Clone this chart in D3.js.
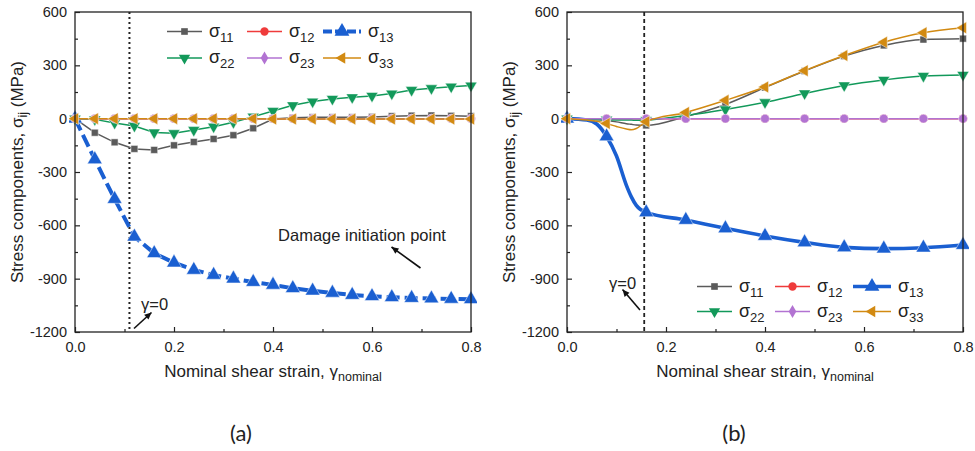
<!DOCTYPE html>
<html><head><meta charset="utf-8">
<script src="https://cdn.jsdelivr.net/npm/d3@7"></script>
<style>
body{margin:0;background:#fff;}
svg{display:block;font-family:"Liberation Sans",Arial,sans-serif;}
</style></head>
<body><svg id="c" width="975" height="451"></svg>
<script>
// ---------- DATA ----------
const seriesNames = ["σ11","σ12","σ13","σ22","σ23","σ33"];
const seriesColors = ["#5b5b5b","#ef3b3b","#1a5fd1","#12995a","#b273d2","#d28a12"];
const xTickLabels = [0.0,0.2,0.4,0.6,0.8];
const yTickLabels = [-1200,-900,-600,-300,0,300,600];

// Panel (a): sampled every 0.04
const xA = [0,0.04,0.08,0.12,0.16,0.20,0.24,0.28,0.32,0.36,0.40,0.44,0.48,0.52,0.56,0.60,0.64,0.68,0.72,0.76,0.80];
const a_s11 = [0,-79,-133,-170,-176,-150,-131,-114,-93,-54,-2,5,8,8,8,10,14,17,18,16,14];
const a_s12 = [0,0,0,0,0,0,0,0,0,0,0,0,0,0,0,0,0,0,0,0,0];
const a_s13 = [0,-229,-452,-664,-757,-810,-851,-879,-900,-919,-935,-954,-968,-980,-992,-999,-1005,-1009,-1012,-1014,-1016];
const a_s22 = [0,-4,-24,-41,-78,-82,-64,-45,-20,11,43,75,96,111,120,128,141,161,171,180,186];
const a_s23 = [0,0,0,0,0,0,0,0,0,0,0,0,0,0,0,0,0,0,0,0,0];
const a_s33 = [0,0,0,0,0,0,0,0,0,0,-2,-2,-2,-2,-2,-2,-2,-2,-2,-2,-2];

// Panel (b): curve samples, markers every 0.08
const xB = [0,0.04,0.06,0.08,0.10,0.12,0.13,0.14,0.16,0.24,0.32,0.40,0.48,0.56,0.64,0.72,0.80];
const xBMarkers = [0,0.08,0.16,0.24,0.32,0.40,0.48,0.56,0.64,0.72,0.80];
const b_s11 = [0,-3,-6,-10,-18,-28,-32,-36,-38,12,80,175,268,352,412,445,450];
const b_s12 = [0,0,0,0,0,0,0,0,0,0,0,0,0,0,0,0,0];
const b_s13 = [0,-8,-30,-100,-210,-375,-440,-488,-527,-570,-617,-660,-696,-724,-731,-726,-711];
const b_s22 = [0,-3,-5,-6,-7,-8,-8,-9,-8,18,52,92,142,187,218,240,246];
const b_s23 = [0,0,0,0,0,0,0,0,0,0,0,0,0,0,0,0,0];
const b_s33 = [0,-8,-15,-27,-44,-58,-62,-55,-17,35,103,178,270,355,430,483,511];

// ---------- DRAW ----------
const svg = d3.select("#c");
const W = 396, T = 12, B = 332;

const plotMarkers = [
  {t:d3.symbolSquare, s:48, r:0},
  {t:d3.symbolCircle, s:60, r:0},
  {t:d3.symbolTriangle, s:95, r:0},
  {t:d3.symbolTriangle, s:62, r:180},
  {t:d3.symbolCircle, s:60, r:0},
  {t:d3.symbolTriangle, s:62, r:-90}
];
const legendMarkers = [
  {t:d3.symbolSquare, s:44, r:0},
  {t:d3.symbolCircle, s:55, r:0},
  {t:d3.symbolTriangle, s:95, r:0},
  {t:d3.symbolTriangle, s:55, r:180},
  {t:d3.symbolDiamond, s:50, r:0},
  {t:d3.symbolTriangle, s:55, r:-90}
];

function addSubText(g, x, y, main, sub, size, subSize, anchor){
  const t = g.append("text").attr("x",x).attr("y",y).attr("font-size",size).attr("fill","#222");
  if(anchor) t.attr("text-anchor",anchor);
  t.append("tspan").text(main);
  t.append("tspan").attr("font-size",subSize).attr("dy",size*0.3).text(sub);
  return t;
}

function arrow(g, x1,y1,x2,y2){
  g.append("line").attr("x1",x1).attr("y1",y1).attr("x2",x2).attr("y2",y2)
   .attr("stroke","#111").attr("stroke-width",1.6);
  const ang = Math.atan2(y2-y1,x2-x1);
  const L=7, w=3.2;
  const p = [[x2,y2],
    [x2-L*Math.cos(ang)+w*Math.sin(ang), y2-L*Math.sin(ang)-w*Math.cos(ang)],
    [x2-L*Math.cos(ang)-w*Math.sin(ang), y2-L*Math.sin(ang)+w*Math.cos(ang)]];
  g.append("path").attr("d","M"+p.join("L")+"Z").attr("fill","#111");
}

function panel(left, xs, data, markerXs, opts){
  const g = svg.append("g");
  const x = d3.scaleLinear().domain([0,0.8]).range([left,left+W]);
  const y = d3.scaleLinear().domain([-1200,600]).range([B,T]);

  const cid = "clip"+left;
  svg.append("clipPath").attr("id",cid).append("rect").attr("x",left-6).attr("y",T-6).attr("width",W+12).attr("height",B-T+12);

  // axes
  const xAxis = d3.axisBottom(x).tickValues(xTickLabels).tickFormat(d=>d.toFixed(1)).tickSizeInner(-5).tickSizeOuter(0).tickPadding(10);
  g.append("g").attr("transform",`translate(0,${B})`).call(xAxis);
  const xMinor = d3.axisBottom(x).tickValues([0.1,0.3,0.5,0.7]).tickFormat("").tickSizeInner(-3).tickSizeOuter(0);
  g.append("g").attr("transform",`translate(0,${B})`).call(xMinor);
  const yAxis = d3.axisLeft(y).tickValues(yTickLabels).tickFormat(d=>String(d)).tickSizeInner(-5).tickSizeOuter(0).tickPadding(8);
  g.append("g").attr("transform",`translate(${left},0)`).call(yAxis);
  const yMinor = d3.axisLeft(y).tickValues([-1050,-750,-450,-150,150,450]).tickFormat("").tickSizeInner(-3).tickSizeOuter(0);
  g.append("g").attr("transform",`translate(${left},0)`).call(yMinor);
  g.selectAll(".domain").remove();
  g.selectAll(".tick line").attr("stroke","#222").attr("stroke-width",1.2);
  g.selectAll(".tick text").attr("font-size",14.5).attr("fill","#222").attr("font-family","Liberation Sans, Arial, sans-serif");

  // vertical reference line
  g.append("line").attr("x1",x(opts.vx)).attr("x2",x(opts.vx)).attr("y1",T).attr("y2",B)
   .attr("stroke","#222").attr("stroke-width",opts.vw).attr("stroke-dasharray",opts.vdash);

  // series
  const plot = g.append("g").attr("clip-path",`url(#${cid})`);
  data.forEach((vals,i)=>{
    const pts = xs.map((xv,k)=>[xv,vals[k]]);
    const line = d3.line().x(d=>x(d[0])).y(d=>y(d[1])).curve(opts.curve);
    const isS13 = i===2;
    plot.append("path").attr("d",line(pts)).attr("fill","none")
      .attr("stroke",seriesColors[i]).attr("stroke-width",isS13?opts.w13:1.5)
      .attr("stroke-dasharray",isS13?opts.dash13:null);
    const mk = plotMarkers[i];
    const sym = d3.symbol().type(mk.t).size(mk.s);
    const mpts = pts.filter(p=>markerXs.some(m=>Math.abs(m-p[0])<1e-9));
    plot.selectAll(null).data(mpts).join("path")
      .attr("d",sym)
      .attr("transform",d=>`translate(${x(d[0])},${y(d[1])}) rotate(${mk.r})`)
      .attr("fill",seriesColors[i]).attr("stroke","rgba(255,255,255,0.6)").attr("stroke-width",0.8);
  });

  // frame
  g.append("rect").attr("x",left).attr("y",T).attr("width",W).attr("height",B-T)
   .attr("fill","none").attr("stroke","#222").attr("stroke-width",1.3);

  // axis titles
  const cx = left+W/2;
  const xt = g.append("text").attr("x",cx).attr("y",377).attr("text-anchor","middle").attr("font-size",17).attr("fill","#222");
  xt.append("tspan").text("Nominal shear strain, γ");
  xt.append("tspan").attr("font-size",12.5).attr("dy",4).text("nominal");

  const yt = g.append("text").attr("transform",`translate(${left-52},${(T+B)/2}) rotate(-90)`).attr("text-anchor","middle").attr("font-size",17).attr("fill","#222");
  yt.append("tspan").text("Stress components, σ");
  yt.append("tspan").attr("font-size",12.5).attr("dy",4).text("ij");
  yt.append("tspan").attr("dy",-4).text(" (MPa)");

  g.append("text").attr("x",opts.lab[0]).attr("y",441).attr("text-anchor","middle")
   .attr("font-size",22).attr("font-family","Lato, 'Open Sans', sans-serif").attr("fill","#222").text(opts.lab[1]);

  // legend
  const L = opts.leg;
  seriesNames.forEach((nm,i)=>{
    const col = i%3, row = Math.floor(i/3);
    const lx = L.cols[col], ly = L.rows[row];
    const len = col===2?38:35;
    const isS13 = i===2;
    g.append("line").attr("x1",lx).attr("x2",lx+len).attr("y1",ly).attr("y2",ly)
      .attr("stroke",seriesColors[i]).attr("stroke-width",isS13?opts.w13:1.5)
      .attr("stroke-dasharray",isS13&&opts.dash13?"9,3":null);
    const mk = legendMarkers[i];
    const sym = d3.symbol().type(mk.t).size(mk.s);
    g.append("path").attr("d",sym()).attr("transform",`translate(${lx+len/2},${ly}) rotate(${mk.r})`)
      .attr("fill",seriesColors[i]);
    addSubText(g, lx+len+7, ly+5, "σ", nm.slice(1), 18, 13);
  });

  return {g,x,y};
}

const A = panel(75, xA, [a_s11,a_s12,a_s13,a_s22,a_s23,a_s33], xA, {
  curve:d3.curveLinear, w13:4, dash13:"13,5",
  vx:0.11, vw:2, vdash:"2,3",
  lab:[241,"(a)"],
  leg:{cols:[167,247,323], rows:[31.5,58]}
});
// annotations (a)
A.g.append("text").attr("x",362).attr("y",241).attr("text-anchor","middle").attr("font-size",16.5).attr("fill","#222").text("Damage initiation point");
arrow(A.g, 420.5,268, 391.5,247);
A.g.append("text").attr("x",141).attr("y",310).attr("font-size",16.5).attr("fill","#222").text("γ=0");
arrow(A.g, 134,328.5, 151.5,312.5);

const Bp = panel(567, xB, [b_s11,b_s12,b_s13,b_s22,b_s23,b_s33], xBMarkers, {
  curve:d3.curveMonotoneX, w13:3.6, dash13:null,
  vx:0.156, vw:1.8, vdash:"4,3",
  lab:[734,"(b)"],
  leg:{cols:[697,775,853], rows:[286.5,311.5]}
});
Bp.g.append("text").attr("x",609).attr("y",289).attr("font-size",16.5).attr("fill","#222").text("γ=0");
arrow(Bp.g, 640,310, 622.5,289.5);
</script></body></html>
